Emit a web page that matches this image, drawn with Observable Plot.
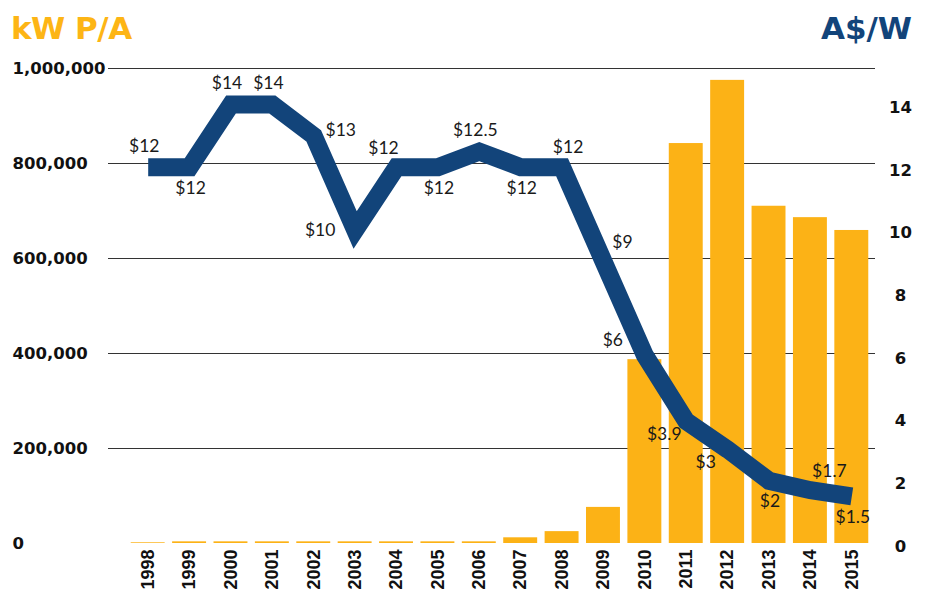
<!DOCTYPE html>
<html>
<head>
<meta charset="utf-8">
<script src="https://cdn.jsdelivr.net/npm/d3@7"></script>
<script src="https://cdn.jsdelivr.net/npm/@observablehq/plot@0.6"></script>
<style>
  html, body { margin: 0; padding: 0; background: #fff; }
  #wrap { width: 928px; }
  #header { position: relative; width: 928px; height: 55px; }
  .ttl { position: absolute; font-family: "DejaVu Sans", sans-serif; font-weight: bold; font-size: 31px; line-height: 31px; white-space: nowrap; }
  #tl { left: 11px; top: 13px; color: #FDB515; letter-spacing: -0.5px; }
  #tr { right: 16px; top: 13px; color: #12447A; }
  svg { display: block; }
</style>
</head>
<body>
<div id="wrap">
  <div id="header">
    <div class="ttl" id="tl">kW P/A</div>
    <div class="ttl" id="tr">A$/W</div>
  </div>
  <div id="chart"></div>
</div>
<script>
const years = ["1998","1999","2000","2001","2002","2003","2004","2005","2006","2007","2008","2009","2010","2011","2012","2013","2014","2015"];
const kwInstalled = [1500, 3500, 3500, 3500, 3500, 3500, 3500, 3500, 3500, 12000, 25000, 76000, 387000, 842000, 975000, 710000, 686000, 659000];
const pricePerWatt = [12, 12, 14, 14, 13, 10, 12, 12, 12.5, 12, 12, 9, 6, 3.9, 3, 2, 1.7, 1.5];
const labelPlacement = ["n","s","n","n","e","w","nw","s","n","s","nne","ne","wnw","sw","sw","s","ne","s"];
const leftTicks = [0, 200000, 400000, 600000, 800000, 1000000];
const rightTicks = [0, 2, 4, 6, 8, 10, 12, 14];

// price axis maps onto the kW axis: 15.15 A$/W spans the same height as 1,000,000 kW
const k = 1000000 / 15.15;

const rows = years.map((year, i) => ({
  year, kw: kwInstalled[i], price: pricePerWatt[i], pos: labelPlacement[i]
}));

const offsets = {
  n: [-4, -21], nne: [6, -20], ne: [19, -19], nw: [-13, -19], wnw: [-32, -15],
  s: [1, 21], e: [27, -6], w: [-35, 0], sw: [-22, 13]
};

const labelMarks = Object.entries(offsets).map(([code, [dx, dy]]) =>
  Plot.text(rows, {
    filter: d => d.pos === code,
    x: "year", y: d => d.price * k,
    text: d => "$" + d.price,
    dx, dy, fontSize: 17.5, fill: "#1a1a1a",
    fontFamily: "Lato, 'Open Sans', sans-serif",
    textAnchor: "middle", lineAnchor: "middle"
  })
);

const chart = Plot.plot({
  width: 928,
  height: 537,
  marginTop: 13,
  marginBottom: 49,
  marginLeft: 127,
  marginRight: 56,
  style: { fontFamily: "'DejaVu Sans', sans-serif", background: "#fff", overflow: "visible" },
  x: { type: "band", domain: years, paddingInner: 0.18, paddingOuter: 0.09, round: false },
  y: { domain: [0, 1000000] },
  marks: [
    Plot.ruleY(leftTicks.filter(t => t > 0), { stroke: "#333", strokeWidth: 1.2, insetLeft: -19, insetRight: -3 }),
    Plot.barY(rows, { x: "year", y: "kw", fill: "#FCB216" }),
    Plot.line(rows, {
      x: "year", y: d => d.price * k, stroke: "#12447A", strokeWidth: 18,
      strokeLinejoin: "miter", strokeLinecap: "butt", strokeMiterlimit: 6
    }),
    ...labelMarks,
    Plot.axisY({
      anchor: "left", ticks: leftTicks, tickFormat: d3.format(","), tickSize: 0, tickPadding: 0,
      textAnchor: "start", dx: -115, fontSize: 16.5, fontWeight: "bold", fill: "#111", label: null
    }),
    Plot.axisY({
      anchor: "right", ticks: rightTicks.map(v => v * k), tickFormat: v => String(Math.round(v / k)),
      tickSize: 0, tickPadding: 0, textAnchor: "middle", dx: 28, dy: 3,
      fontSize: 16.5, fontWeight: "bold", fill: "#111", label: null
    }),
    Plot.axisX({
      anchor: "bottom", tickRotate: -90, tickSize: 0, tickPadding: 6,
      fontSize: 18, fontWeight: "bold", fontFamily: "'Liberation Sans', Arial, sans-serif",
      fill: "#111", label: null
    })
  ]
});

document.getElementById("chart").appendChild(chart);
</script>
</body>
</html>
